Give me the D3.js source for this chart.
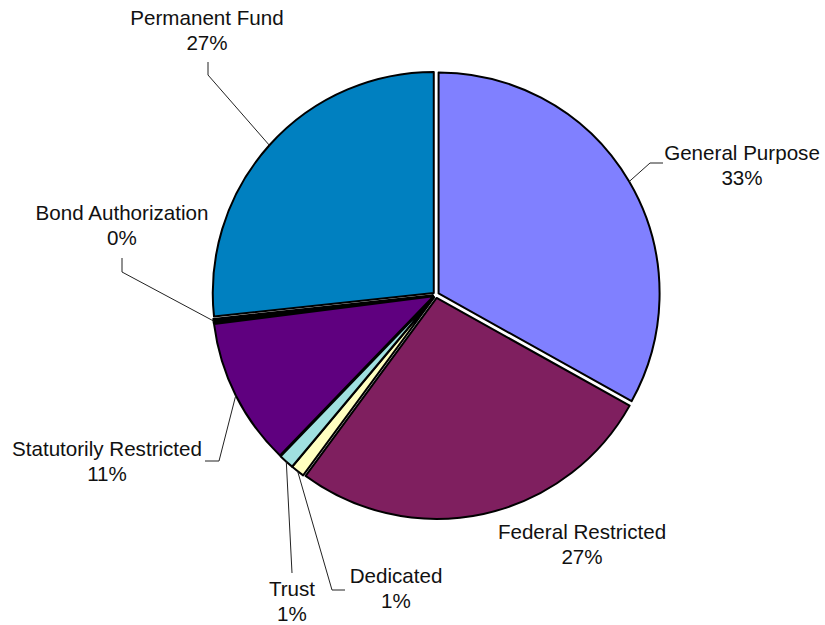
<!doctype html>
<html lang="en">

<head>
    <meta charset="utf-8">
    <script src="https://d3js.org/d3.v7.min.js"></script>
    <title>Fund Pie</title>
    <style>
        body {
            margin: 0;
            background: white;
        }

        text {
            font-family: "Liberation Sans", Arial, sans-serif;
            font-size: 20.6px;
            fill: #111;
        }
    </style>
</head>

<body>
    <svg width="825" height="625" id="svg"></svg>

    <script>
        // data, clockwise from 12 o'clock
        let categories = ["General Purpose", "Federal Restricted", "Dedicated", "Trust",
            "Statutorily Restricted", "Bond Authorization", "Permanent Fund"];
        let shares = [33.1, 27.0, 1.0, 1.1, 10.8, 0.3, 26.7];
        let colors = ["#8080ff", "#7f1f5f", "#ffffc0", "#a0e0e0", "#5f007f", "#000000", "#0080c0"];

        // label placement: x, first baseline, leader points (label end first) - layout only
        let labelLayout = {
            "General Purpose": { x: 742, y: 160, leader: [[663, 163], [650, 163]] },
            "Federal Restricted": { x: 582, y: 539, leader: null },
            "Dedicated": { x: 396, y: 583, leader: [[345, 590], [332, 590]] },
            "Trust": { x: 292, y: 596, leader: [[292, 573]] },
            "Statutorily Restricted": { x: 107, y: 456, leader: [[205, 461], [219, 461]] },
            "Bond Authorization": { x: 122, y: 220, leader: [[122, 258], [122, 272]] },
            "Permanent Fund": { x: 207, y: 25, leader: [[208, 62], [208, 75]] }
        };

        let cx = 436, cy = 295, radius = 221, explode = 3, lineGap = 25;

        let svg = d3.select("#svg");
        let g = svg.append("g").attr("transform", `translate(${cx}, ${cy})`);

        let data = categories.map((c, i) => ({ name: c, value: shares[i], color: colors[i] }));
        let total = d3.sum(shares);

        let pie = d3.pie().sort(null).value(d => d.value);
        let arc = d3.arc().innerRadius(0).outerRadius(radius);
        let arcs = pie(data);

        function offset(d) {
            let a = (d.startAngle + d.endAngle) / 2;
            return [Math.sin(a) * explode, -Math.cos(a) * explode];
        }

        g.selectAll("path")
            .data(arcs)
            .join("path")
            .attr("transform", d => `translate(${offset(d)})`)
            .attr("d", arc)
            .attr("fill", d => d.data.color)
            .attr("stroke", "#000")
            .attr("stroke-width", 2)
            .attr("stroke-linejoin", "round");

        // leader lines, from the label to the outer edge on the slice bisector
        let line = d3.line();
        arcs.forEach(d => {
            let lay = labelLayout[d.data.name];
            if (!lay.leader) return;
            let a = (d.startAngle + d.endAngle) / 2;
            let r = radius + explode;
            let end = [cx + Math.sin(a) * r, cy - Math.cos(a) * r];
            svg.append("path")
                .attr("d", line(lay.leader.concat([end])))
                .attr("fill", "none")
                .attr("stroke", "#222")
                .attr("stroke-width", 1);
        });

        // labels
        let labels = svg.selectAll("text.label")
            .data(arcs)
            .join("text")
            .attr("class", "label")
            .attr("text-anchor", "middle");

        labels.append("tspan")
            .attr("x", d => labelLayout[d.data.name].x)
            .attr("y", d => labelLayout[d.data.name].y)
            .text(d => d.data.name);

        labels.append("tspan")
            .attr("x", d => labelLayout[d.data.name].x)
            .attr("y", d => labelLayout[d.data.name].y + lineGap)
            .text(d => Math.round(d.data.value / total * 100) + "%");
    </script>
</body>

</html>
